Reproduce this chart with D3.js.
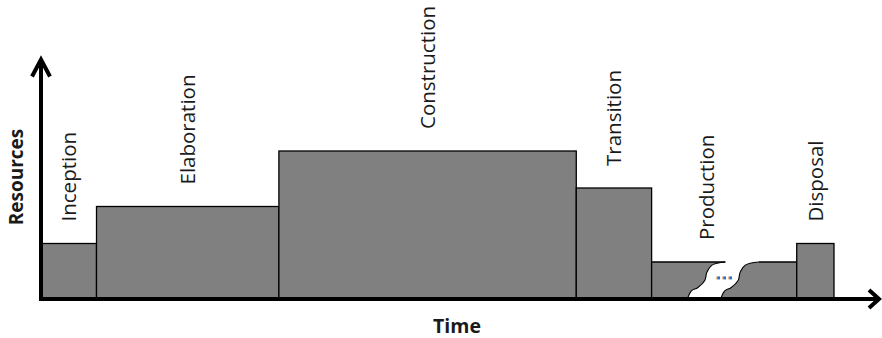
<!DOCTYPE html>
<html><head><meta charset="utf-8">
<script src="https://cdn.jsdelivr.net/npm/d3@7"></script>
<style>html,body{margin:0;padding:0;background:#fff;}svg{display:block;}</style>
</head><body><svg id="c" width="882" height="338"></svg>
<script>
// Data
const phases = ["Inception","Elaboration","Construction","Transition","Production","Disposal"];
const phaseStart = [0, 7, 30, 67.5, 77, 95.3];
const phaseEnd   = [7, 30, 67.5, 77, 95.3, 100];
const resources  = [3, 5, 8, 6, 2, 3];
const productionBreak = [86.3, 90.5]; // time gap (top edge of the break)
const xTitle = "Time", yTitle = "Resources";

const svg = d3.select("#c");
const x = d3.scaleLinear().domain([0, 100]).range([41, 834]);
const y = d3.scaleLinear().domain([0, 13]).range([299, 58.5]);
const fill = "#808080";
const font = "'Open Sans', 'Noto Sans', sans-serif";

const g = svg.append("g");
const base = y(0);

phases.forEach((p, i) => {
  const x0 = x(phaseStart[i]), x1 = x(phaseEnd[i]), top = y(resources[i]);
  if (p !== "Production") {
    g.append("rect").attr("x", x0).attr("y", top).attr("width", x1 - x0).attr("height", base - top)
      .attr("fill", fill).attr("stroke", "#000").attr("stroke-width", 1.3);
  } else {
    const h = base - top;
    const wave = [[0,0],[-13/36,3/36],[-18/36,10/36],[-20/36,18/36],[-27/36,25/36],[-33/36,28/36],[-37/36,1]];
    const wavePts = (xt) => wave.map(([dx, dy]) => [xt + dx * h, top + dy * h]);
    const line = d3.line().curve(d3.curveCatmullRom.alpha(0.5));
    const bl = x(productionBreak[0]), br = x(productionBreak[1]);
    const lw = wavePts(bl), rw = wavePts(br);
    // left piece
    g.append("path").attr("d", `M${x0},${base}L${x0},${top}L${bl},${top}` + "L" + line(lw).slice(1) + "Z")
      .attr("fill", fill).attr("stroke", "none");
    g.append("path").attr("d", `M${x0},${base}L${x0},${top}L${bl},${top}`).attr("fill","none").attr("stroke","#000").attr("stroke-width",1.3);
    g.append("path").attr("d", line(lw)).attr("fill","none").attr("stroke","#000").attr("stroke-width",1.1);
    // right piece
    g.append("path").attr("d", "M" + line(rw).slice(1) + `L${x1},${base}L${x1},${top}Z`)
      .attr("fill", fill).attr("stroke", "none");
    g.append("path").attr("d", `M${br},${top}L${x1},${top}L${x1},${base}`).attr("fill","none").attr("stroke","#000").attr("stroke-width",1.3);
    g.append("path").attr("d", line(rw)).attr("fill","none").attr("stroke","#000").attr("stroke-width",1.1);
    // ellipsis dots
    const cx = (bl + br) / 2 - 18, cy = top + h * 0.43;
    [-6, 0, 6].forEach((d) => {
      g.append("rect").attr("x", cx + d - 1.5).attr("y", cy - 1.5).attr("width", 1.5).attr("height", 3).attr("fill", "#d8742a");
      g.append("rect").attr("x", cx + d).attr("y", cy - 1.5).attr("width", 2).attr("height", 3).attr("fill", "#2f6fc8");
    });
  }
});

// phase labels
const labelDx = {Production: -17};
phases.forEach((p, i) => {
  const cx = (x(phaseStart[i]) + x(phaseEnd[i])) / 2 + (labelDx[p] || 0);
  const yy = y(resources[i]) - 22;
  svg.append("text").attr("transform", `translate(${cx},${yy}) rotate(-90)`)
    .attr("dy", "0.35em").attr("font-family", font).attr("font-size", 20.5).attr("fill", "#1a1a1a")
    .text(p);
});

// axes
const ax = svg.append("g").attr("stroke", "#000").attr("stroke-width", 4).attr("fill", "none");
ax.append("line").attr("x1", x(0)).attr("y1", base + 2).attr("x2", x(0)).attr("y2", y(13) + 2);
ax.append("line").attr("x1", x(0) - 2).attr("y1", base).attr("x2", 879).attr("y2", base);
ax.append("path").attr("d", `M${x(0) - 9},${y(13) + 18}L${x(0)},${y(13)+1}L${x(0) + 9},${y(13) + 18}`).attr("stroke-linejoin", "miter");
ax.append("path").attr("d", `M${869},${base - 9}L${879},${base}L${869},${base + 9}`).attr("stroke-linejoin", "miter");

// axis titles
svg.append("text").attr("x", 457).attr("y", 333).attr("text-anchor", "middle")
  .attr("font-family", font).attr("font-weight", 700).attr("font-size", 19.5).attr("fill", "#1a1a1a").text(xTitle);
svg.append("text").attr("transform", `translate(23,177) rotate(-90)`).attr("text-anchor", "middle")
  .attr("font-family", font).attr("font-weight", 700).attr("font-size", 19).attr("fill", "#1a1a1a").text(yTitle);
</script></body></html>
